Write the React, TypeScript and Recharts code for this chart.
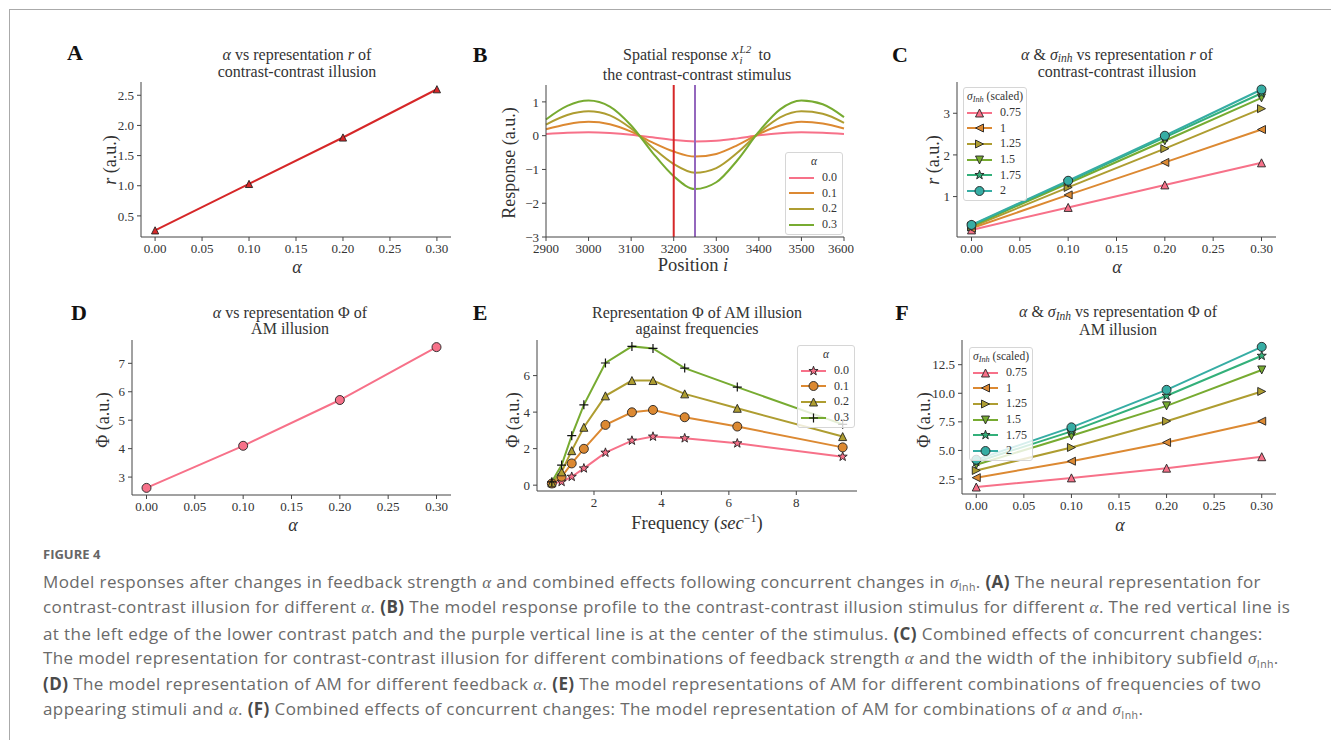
import React from "react";
import { LineChart, Line, XAxis, YAxis, ReferenceLine } from "recharts";

const SERIF = '"Liberation Serif", "Times New Roman", serif';
const SANS = '"Open Sans", Lato, sans-serif';
const INK = "#333";
const AXIS = "#444";

const pal = ["#f77189", "#dc8932", "#ae9d31", "#77ab31", "#33b07a", "#36ada4"];

// A / D : alpha sweep
const alphas = [0, 0.1, 0.2, 0.3];
const alphaTicks = [0, 0.05, 0.1, 0.15, 0.2, 0.25, 0.3];
const rByAlpha = [0.26, 1.03, 1.8, 2.6];
const rTicksA = [0.5, 1, 1.5, 2, 2.5];
const phiByAlpha = [2.62, 4.1, 5.71, 7.57];
const phiTicksD = [3, 4, 5, 6, 7];

// B : spatial response
const positions = [2900, 2950, 3000, 3050, 3100, 3150, 3200, 3250, 3300, 3350, 3400, 3450, 3500, 3550, 3600];
const resp00 = [0.05, 0.09, 0.1, 0.08, 0.03, -0.05, -0.13, -0.17, -0.15, -0.08, 0.01, 0.07, 0.1, 0.09, 0.05];
const resp01 = [0.19, 0.34, 0.41, 0.34, 0.12, -0.2, -0.47, -0.62, -0.54, -0.28, 0.05, 0.3, 0.41, 0.36, 0.21];
const resp02 = [0.33, 0.61, 0.72, 0.6, 0.21, -0.35, -0.84, -1.1, -0.96, -0.5, 0.08, 0.54, 0.72, 0.65, 0.38];
const resp03 = [0.48, 0.88, 1.04, 0.86, 0.3, -0.5, -1.2, -1.58, -1.38, -0.72, 0.12, 0.78, 1.04, 0.93, 0.55];
const posTicks = [2900, 3000, 3100, 3200, 3300, 3400, 3500, 3600];
const respTicks = [-3, -2, -1, 0, 1];
const alphaLabels = ["0.0", "0.1", "0.2", "0.3"];

// C : alpha & sigma vs r
const sigmaLabels = ["0.75", "1", "1.25", "1.5", "1.75", "2"];
const rS075 = [0.2, 0.74, 1.28, 1.81];
const rS100 = [0.24, 1.04, 1.82, 2.61];
const rS125 = [0.27, 1.22, 2.15, 3.11];
const rS150 = [0.29, 1.32, 2.34, 3.37];
const rS175 = [0.31, 1.36, 2.42, 3.48];
const rS200 = [0.32, 1.38, 2.46, 3.57];
const rTicksC = [1, 2, 3];

// E : phi vs frequency
const freqs = [0.75, 1.04, 1.34, 1.7, 2.34, 3.125, 3.75, 4.69, 6.25, 9.375];
const phiE00 = [0.09, 0.18, 0.46, 0.92, 1.78, 2.44, 2.66, 2.57, 2.29, 1.56];
const phiE01 = [0.09, 0.46, 1.19, 1.99, 3.3, 3.99, 4.12, 3.72, 3.21, 2.07];
const phiE02 = [0.13, 0.73, 1.89, 3.17, 4.89, 5.73, 5.73, 5.0, 4.21, 2.66];
const phiE03 = [0.18, 1.1, 2.71, 4.4, 6.69, 7.6, 7.49, 6.41, 5.37, 3.33];
const freqTicks = [2, 4, 6, 8];
const phiTicksE = [0, 2, 4, 6];

// F : alpha & sigma vs phi
const phiS075 = [1.8, 2.6, 3.45, 4.45];
const phiS100 = [2.62, 4.06, 5.7, 7.56];
const phiS125 = [3.25, 5.26, 7.56, 10.16];
const phiS150 = [3.75, 6.28, 8.9, 12.04];
const phiS175 = [3.99, 6.67, 9.78, 13.28];
const phiS200 = [4.19, 7.02, 10.3, 14.06];
const phiTicksF = [2.5, 5, 7.5, 10, 12.5];

const shapesSigma = ["up", "left", "right", "down", "star", "circle"];
const shapesE = ["star", "circle", "up", "plus"];

const dataA = alphas.map((a, i) => ({ a, r: rByAlpha[i] }));
const dataD = alphas.map((a, i) => ({ a, phi: phiByAlpha[i] }));
const dataB = positions.map((p, i) => ({ p, s0: resp00[i], s1: resp01[i], s2: resp02[i], s3: resp03[i] }));
const dataC = alphas.map((a, i) => ({
  a, s0: rS075[i], s1: rS100[i], s2: rS125[i], s3: rS150[i], s4: rS175[i], s5: rS200[i],
}));
const dataE = freqs.map((f, i) => ({ f, s0: phiE00[i], s1: phiE01[i], s2: phiE02[i], s3: phiE03[i] }));
const dataF = alphas.map((a, i) => ({
  a, s0: phiS075[i], s1: phiS100[i], s2: phiS125[i], s3: phiS150[i], s4: phiS175[i], s5: phiS200[i],
}));

function Mark({ shape, cx, cy, fill, r = 4 }: any) {
  const edge = "#222";
  const sw = 0.9;
  if (cx == null || cy == null) return null;
  if (shape === "circle") return <circle cx={cx} cy={cy} r={r + 0.5} fill={fill} stroke={edge} strokeWidth={sw} />;
  if (shape === "plus")
    return (
      <path d={`M${cx - r - 0.5},${cy}H${cx + r + 0.5}M${cx},${cy - r - 0.5}V${cy + r + 0.5}`} stroke="#111" strokeWidth={1.2} />
    );
  let pts = "";
  if (shape === "up") pts = `${cx},${cy - r} ${cx - r},${cy + r} ${cx + r},${cy + r}`;
  if (shape === "down") pts = `${cx},${cy + r} ${cx - r},${cy - r} ${cx + r},${cy - r}`;
  if (shape === "left") pts = `${cx - r},${cy} ${cx + r},${cy - r} ${cx + r},${cy + r}`;
  if (shape === "right") pts = `${cx + r},${cy} ${cx - r},${cy - r} ${cx - r},${cy + r}`;
  if (shape === "star") {
    const p: string[] = [];
    for (let k = 0; k < 10; k++) {
      const rr = k % 2 === 0 ? r + 0.8 : (r + 0.8) * 0.4;
      const t = -Math.PI / 2 + (k * Math.PI) / 5;
      p.push(`${cx + rr * Math.cos(t)},${cy + rr * Math.sin(t)}`);
    }
    pts = p.join(" ");
  }
  return <polygon points={pts} fill={fill} stroke={edge} strokeWidth={sw} strokeLinejoin="miter" />;
}

const dotOf = (shape: string, fill: string, r = 4) => (p: any) => (
  <Mark key={`m-${p.index}`} shape={shape} cx={p.cx} cy={p.cy} fill={fill} r={r} />
);

const tickStyle = { fill: INK, fontSize: 13, fontFamily: SERIF };
const minus = (v: number) => (v < 0 ? "\u2212" + Math.abs(v) : String(v));

function Panel({ x, y, w, h, data, children }: any) {
  return (
    <div style={{ position: "absolute", left: x - 60, top: y - 10 }}>
      <LineChart width={60 + w + 10} height={h + 50} data={data} margin={{ top: 10, right: 10, bottom: 10, left: 0 }}>
        {children}
      </LineChart>
    </div>
  );
}

function T({ x, y, size = 16, children, anchor = "middle", rotate = false, style = {} }: any) {
  const tx = anchor === "middle" ? "-50%" : "0";
  return (
    <div
      style={{
        position: "absolute",
        left: x,
        top: y,
        transform: `translate(${tx}, -50%)${rotate ? " rotate(-90deg)" : ""}`,
        fontSize: size,
        lineHeight: 1,
        whiteSpace: "nowrap",
        fontFamily: SERIF,
        color: INK,
        ...style,
      }}
    >
      {children}
    </div>
  );
}

const Sig = ({ sub }: any) => (
  <span>
    <i>σ</i>
    <i style={{ fontSize: "0.72em", position: "relative", top: "0.22em", lineHeight: 0.8 }}>{sub}</i>
  </span>
);

function LegendBox({ x, y, w, title, items, rowH = 15.7 }: any) {
  return (
    <div
      style={{
        position: "absolute",
        left: x,
        top: y,
        width: w,
        height: 4 + rowH * (items.length + 1),
        background: "rgba(255,255,255,0.8)",
        border: "1px solid #d6d6d6",
        borderRadius: 3,
        boxSizing: "border-box",
        fontFamily: SERIF,
        color: INK,
      }}
    >
      <div style={{ height: rowH, lineHeight: `${rowH}px`, textAlign: "center", fontSize: 11.5, marginTop: 1 }}>{title}</div>
      {items.map((it: any) => (
        <div key={it.label} style={{ height: rowH, display: "flex", alignItems: "center" }}>
          <svg width={25} height={14} style={{ marginLeft: 3, overflow: "visible" }}>
            <line x1={0} y1={7} x2={25} y2={7} stroke={it.color} strokeWidth={2} />
            {it.shape && <Mark shape={it.shape} cx={12.5} cy={7} fill={it.color} r={4} />}
          </svg>
          <span style={{ marginLeft: 8, fontSize: 12 }}>{it.label}</span>
        </div>
      ))}
    </div>
  );
}

const xAlpha = (
  <XAxis
    type="number"
    dataKey="a"
    domain={[-0.015, 0.315]}
    ticks={alphaTicks}
    tickFormatter={(v: number) => v.toFixed(2)}
    height={30}
    stroke={AXIS}
    tickSize={4}
    tickMargin={3}
    tick={tickStyle}
  />
);

const M = <i>α</i>;
const capAlpha = <i style={{ fontFamily: SERIF }}>α</i>;
const CapSig = () => (
  <span>
    <i style={{ fontFamily: SERIF }}>σ</i>
    <span style={{ fontSize: "0.62em", position: "relative", top: "0.35em" }}>Inh</span>
  </span>
);
const Bd = ({ children }: any) => <b style={{ color: "#4a4a4a", fontWeight: 700 }}>{children}</b>;

const captionLines = [
  <>Model responses after changes in feedback strength {capAlpha} and combined effects following concurrent changes in <CapSig />. <Bd>(A)</Bd> The neural representation for</>,
  <>contrast-contrast illusion for different {capAlpha}. <Bd>(B)</Bd> The model response profile to the contrast-contrast illusion stimulus for different {capAlpha}. The red vertical line is</>,
  <>at the left edge of the lower contrast patch and the purple vertical line is at the center of the stimulus. <Bd>(C)</Bd> Combined effects of concurrent changes:</>,
  <>The model representation for contrast-contrast illusion for different combinations of feedback strength {capAlpha} and the width of the inhibitory subfield <CapSig />.</>,
  <><Bd>(D)</Bd> The model representation of AM for different feedback {capAlpha}. <Bd>(E)</Bd> The model representations of AM for different combinations of frequencies of two</>,
  <>appearing stimuli and {capAlpha}. <Bd>(F)</Bd> Combined effects of concurrent changes: The model representation of AM for combinations of {capAlpha} and <CapSig />.</>,
];
const captionY = [581.5, 607, 632.5, 658, 683.5, 709];

const labelStyle = { fontWeight: 700, color: "#111" };

export default function App() {
  const yCommon = { width: 60, stroke: AXIS, tickSize: 4, tickMargin: 3, tick: tickStyle };
  return (
    <div style={{ position: "absolute", left: 0, top: 0, width: 1331, height: 740, background: "#fff", overflow: "hidden" }}>
      <div style={{ position: "absolute", left: 9, top: 9, right: 0, bottom: 0, borderTop: "1px solid #aaa", borderLeft: "1px solid #aaa" }} />

      {/* A */}
      <Panel x={141} y={82} w={310} h={155} data={dataA}>
        {xAlpha}
        <YAxis type="number" domain={[0.15, 2.72]} ticks={rTicksA} tickFormatter={(v: number) => v.toFixed(1)} {...yCommon} />
        <Line type="linear" dataKey="r" stroke="#d62728" strokeWidth={2} dot={dotOf("up", "#d62728", 3.6)} activeDot={false} isAnimationActive={false} />
      </Panel>
      <T x={75} y={53} size={22} style={labelStyle}>A</T>
      <T x={297} y={55}>{M} vs representation <i>r</i> of</T>
      <T x={297} y={71.7}>contrast-contrast illusion</T>
      <T x={109.5} y={160} size={18} rotate><i>r</i> (a.u.)</T>
      <T x={297} y={266.7} size={18}>{M}</T>

      {/* B */}
      <Panel x={546} y={85} w={298} h={152} data={dataB}>
        <XAxis type="number" dataKey="p" domain={[2900, 3600]} ticks={posTicks} height={30} stroke={AXIS} tickSize={4} tickMargin={3} tick={tickStyle} />
        <YAxis type="number" domain={[-3, 1.5]} ticks={respTicks} tickFormatter={minus} {...yCommon} />
        {["s0", "s1", "s2", "s3"].map((k, i) => (
          <Line key={k} type="monotone" dataKey={k} stroke={pal[i]} strokeWidth={2} dot={false} activeDot={false} isAnimationActive={false} />
        ))}
        <ReferenceLine x={3200} stroke="#d62728" strokeWidth={2} />
        <ReferenceLine x={3250} stroke="#9467bd" strokeWidth={2} />
      </Panel>
      <T x={480} y={55} size={22} style={labelStyle}>B</T>
      <T x={697} y={55}>
        Spatial response <i>x</i>
        <span style={{ display: "inline-block", position: "relative", width: 16, height: 0 }}>
          <i style={{ position: "absolute", left: 1, top: -15.5, fontSize: 11, lineHeight: 0.9 }}>L2</i>
          <i style={{ position: "absolute", left: 1, top: -4, fontSize: 11, lineHeight: 0.9 }}>i</i>
        </span>{" "}
        to
      </T>
      <T x={697} y={75}>the contrast-contrast stimulus</T>
      <T x={509} y={163} size={18} rotate>Response (a.u.)</T>
      <T x={693} y={265} size={18.5}>Position <i>i</i></T>
      <LegendBox
        x={785}
        y={152}
        w={58}
        title={<i>α</i>}
        items={alphaLabels.map((l, i) => ({ label: l, color: pal[i] }))}
      />

      {/* C */}
      <Panel x={957} y={82} w={319} h={155} data={dataC}>
        {xAlpha}
        <YAxis type="number" domain={[0.03, 3.75]} ticks={rTicksC} {...yCommon} />
        {["s0", "s1", "s2", "s3", "s4", "s5"].map((k, i) => (
          <Line key={k} type="linear" dataKey={k} stroke={pal[i]} strokeWidth={2} dot={dotOf(shapesSigma[i], pal[i])} activeDot={false} isAnimationActive={false} />
        ))}
      </Panel>
      <T x={900} y={55} size={22} style={labelStyle}>C</T>
      <T x={1117} y={54.5}>{M} &amp; <Sig sub="inh" /> vs representation <i>r</i> of</T>
      <T x={1117} y={72}>contrast-contrast illusion</T>
      <T x={932.5} y={160} size={18} rotate><i>r</i> (a.u.)</T>
      <T x={1117} y={266.7} size={18}>{M}</T>
      <LegendBox
        x={963}
        y={87}
        w={64}
        title={<span><Sig sub="Inh" /> (scaled)</span>}
        items={sigmaLabels.map((l, i) => ({ label: l, color: pal[i], shape: shapesSigma[i] }))}
      />

      {/* D */}
      <Panel x={132} y={340} w={319} h={155} data={dataD}>
        {xAlpha}
        <YAxis type="number" domain={[2.37, 7.82]} ticks={phiTicksD} {...yCommon} />
        <Line type="linear" dataKey="phi" stroke={pal[0]} strokeWidth={2} dot={dotOf("circle", pal[0])} activeDot={false} isAnimationActive={false} />
      </Panel>
      <T x={79} y={313} size={22} style={labelStyle}>D</T>
      <T x={290} y={312.7}>{M} vs representation Φ of</T>
      <T x={290} y={329.3}>AM illusion</T>
      <T x={102.5} y={420} size={18} rotate>Φ (a.u.)</T>
      <T x={293} y={525} size={18}>{M}</T>

      {/* E */}
      <Panel x={537} y={340} w={320} h={151} data={dataE}>
        <XAxis type="number" dataKey="f" domain={[0.31, 9.8]} ticks={freqTicks} height={30} stroke={AXIS} tickSize={4} tickMargin={3} tick={tickStyle} />
        <YAxis type="number" domain={[-0.32, 7.95]} ticks={phiTicksE} {...yCommon} />
        {["s0", "s1", "s2", "s3"].map((k, i) => (
          <Line key={k} type="linear" dataKey={k} stroke={pal[i]} strokeWidth={2} dot={dotOf(shapesE[i], pal[i])} activeDot={false} isAnimationActive={false} />
        ))}
      </Panel>
      <T x={480} y={313} size={22} style={labelStyle}>E</T>
      <T x={697} y={312.7}>Representation Φ of AM illusion</T>
      <T x={697} y={329.3}>against frequencies</T>
      <T x={512.5} y={420} size={18} rotate>Φ (a.u.)</T>
      <T x={697} y={521.7} size={18.5}>Frequency (<i>sec</i><sup style={{ fontSize: "0.65em" }}>−1</sup>)</T>
      <LegendBox
        x={797}
        y={345}
        w={58}
        title={<i>α</i>}
        items={alphaLabels.map((l, i) => ({ label: l, color: pal[i], shape: shapesE[i] }))}
      />

      {/* F */}
      <Panel x={962} y={340} w={314} h={154} data={dataF}>
        {xAlpha}
        <YAxis type="number" domain={[1.19, 14.66]} ticks={phiTicksF} tickFormatter={(v: number) => v.toFixed(1)} {...yCommon} />
        {["s0", "s1", "s2", "s3", "s4", "s5"].map((k, i) => (
          <Line key={k} type="linear" dataKey={k} stroke={pal[i]} strokeWidth={2} dot={dotOf(shapesSigma[i], pal[i])} activeDot={false} isAnimationActive={false} />
        ))}
      </Panel>
      <T x={902} y={313} size={22} style={labelStyle}>F</T>
      <T x={1118} y={312.2}>{M} &amp; <Sig sub="Inh" /> vs representation Φ of</T>
      <T x={1118} y={329.8}>AM illusion</T>
      <T x={924} y={420} size={18} rotate>Φ (a.u.)</T>
      <T x={1120} y={525} size={18}>{M}</T>
      <LegendBox
        x={969}
        y={347}
        w={64}
        title={<span><Sig sub="Inh" /> (scaled)</span>}
        items={sigmaLabels.map((l, i) => ({ label: l, color: pal[i], shape: shapesSigma[i] }))}
      />

      {/* caption */}
      <T x={43} y={554} anchor="left" size={13} style={{ fontFamily: SANS, fontWeight: 700, color: "#666" }}>
        FIGURE 4
      </T>
      {captionLines.map((ln, i) => (
        <T key={i} x={43} y={captionY[i]} anchor="left" size={17} style={{ fontFamily: SANS, color: "#6a6a6a", fontWeight: 400, letterSpacing: 0.4 }}>
          {ln}
        </T>
      ))}
    </div>
  );
}
